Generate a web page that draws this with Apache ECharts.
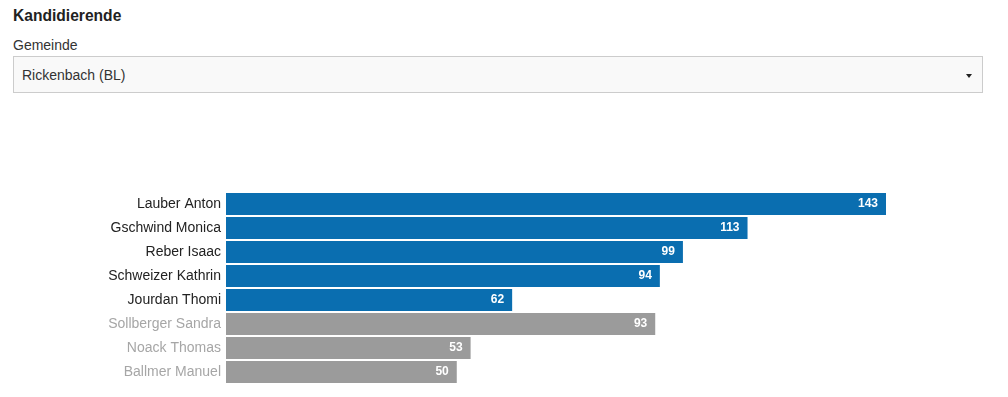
<!DOCTYPE html>
<html>
<head>
<meta charset="utf-8">
<script src="https://cdn.jsdelivr.net/npm/echarts@6/dist/echarts.min.js"></script>
<style>
    html, body {
        margin: 0;
        padding: 0;
        background: #fff;
        font-family: "Liberation Sans", Arial, sans-serif;
    }
    .wrap {
        position: relative;
        width: 1008px;
        height: 397px;
    }
    h3 {
        position: absolute;
        left: 13px;
        top: 7px;
        margin: 0;
        font-size: 15.6px;
        font-weight: bold;
        color: #222;
    }
    .label {
        position: absolute;
        left: 13px;
        top: 37px;
        font-size: 14px;
        color: #333;
    }
    .select {
        position: absolute;
        left: 13px;
        top: 56px;
        width: 968px;
        height: 35px;
        border: 1px solid #ccc;
        background: #f9f9f9;
        font-size: 14px;
        color: #333;
        line-height: 36px;
        box-sizing: content-box;
    }
    .select span {
        position: absolute;
        left: 8px;
    }
    .caret {
        position: absolute;
        right: 10px;
        top: 17px;
        width: 0;
        height: 0;
        border-left: 3px solid transparent;
        border-right: 3px solid transparent;
        border-top: 4px solid #222;
    }
    #bar {
        position: absolute;
        left: 0;
        top: 100px;
        width: 1008px;
        height: 297px;
    }
</style>
</head>
<body>
<div class="wrap">
    <h3>Kandidierende</h3>
    <div class="label">Gemeinde</div>
    <div class="select"><span>Rickenbach (BL)</span><div class="caret"></div></div>
    <div id="bar"></div>
</div>
<script>
// candidates, top to bottom
var names = ['Lauber Anton', 'Gschwind Monica', 'Reber Isaac', 'Schweizer Kathrin', 'Jourdan Thomi', 'Sollberger Sandra', 'Noack Thomas', 'Ballmer Manuel']
var votes = [143, 113, 99, 94, 62, 93, 53, 50]
var elected = [true, true, true, true, true, false, false, false]

var dom = document.getElementById('bar')
var chart = echarts.init(dom)

var seriesData = votes.map(function (v, i) {
    return {
        value: v,
        itemStyle: { color: elected[i] ? '#0a6eb0' : '#9b9b9b' }
    }
})

var option = {
    animation: false,
    grid: {
        left: 226,
        top: 92,
        width: 660,
        height: 192
    },
    xAxis: {
        type: 'value',
        min: 0,
        max: 143,
        show: false
    },
    yAxis: {
        type: 'category',
        inverse: true,
        data: names,
        axisLine: { show: false },
        axisTick: { show: false },
        axisLabel: {
            margin: 5,
            fontSize: 14,
            fontFamily: 'Liberation Sans',
            color: function (value, index) {
                return elected[index] ? '#222' : '#a6a6a6'
            }
        }
    },
    series: [{
        type: 'bar',
        data: seriesData,
        barCategoryGap: 2,
        label: {
            show: true,
            position: 'insideRight',
            distance: 8,
            color: '#fff',
            fontSize: 12,
            fontWeight: 'bold',
            fontFamily: 'Liberation Sans'
        }
    }]
}
chart.setOption(option)
</script>
</body>
</html>
